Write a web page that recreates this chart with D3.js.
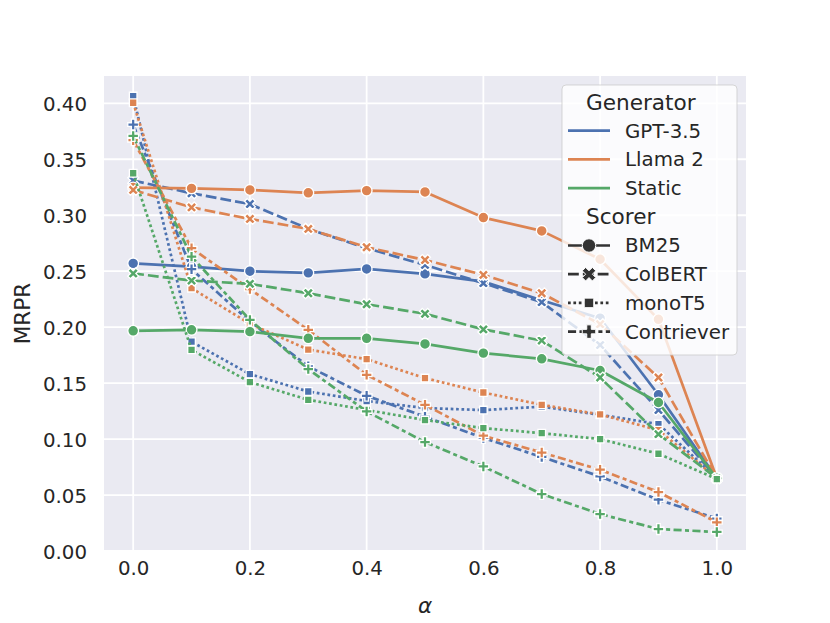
<!DOCTYPE html>
<head>
  <meta charset="utf-8" />
  <script src="https://d3js.org/d3.v7.min.js"></script>
  <style>
    body {
      margin: 0;
      background: #fff;
    }
    text {
      font-family: "DejaVu Sans", sans-serif;
      fill: #262626;
    }
  </style>
</head>

<body>
<div id="chart"></div>

<script>

// values
var alphas = [0.0, 0.1, 0.2, 0.3, 0.4, 0.5, 0.6, 0.7, 0.8, 0.9, 1.0];
var generators = ["GPT-3.5", "Llama 2", "Static"];
var scorers = ["BM25", "ColBERT", "monoT5", "Contriever"];

var gptBM25       = [0.257, 0.254, 0.250, 0.2485, 0.252, 0.2476, 0.2407, 0.224, 0.208, 0.1396, 0.065];
var gptColBERT    = [0.331, 0.3196, 0.310, 0.2878, 0.2705, 0.2556, 0.2393, 0.2223, 0.184, 0.126, 0.065];
var gptMonoT5     = [0.4065, 0.187, 0.158, 0.1425, 0.134, 0.1277, 0.1259, 0.129, 0.1217, 0.1134, 0.065];
var gptContriever = [0.381, 0.2518, 0.205, 0.165, 0.1387, 0.120, 0.101, 0.084, 0.0666, 0.0458, 0.029];

var llamaBM25       = [0.3247, 0.324, 0.3226, 0.320, 0.322, 0.3208, 0.2979, 0.286, 0.2607, 0.207, 0.065];
var llamaColBERT    = [0.3226, 0.307, 0.2967, 0.2878, 0.2714, 0.260, 0.2467, 0.2303, 0.2027, 0.155, 0.065];
var llamaMonoT5     = [0.4005, 0.2348, 0.203, 0.180, 0.1714, 0.1545, 0.1416, 0.1306, 0.122, 0.108, 0.065];
var llamaContriever = [0.367, 0.2705, 0.234, 0.1976, 0.1574, 0.1306, 0.103, 0.088, 0.0726, 0.0527, 0.0256];

var staticBM25       = [0.1967, 0.1976, 0.196, 0.190, 0.190, 0.185, 0.1768, 0.1717, 0.1613, 0.1327, 0.065];
var staticColBERT    = [0.248, 0.2416, 0.2387, 0.2303, 0.2205, 0.2119, 0.198, 0.188, 0.155, 0.1044, 0.065];
var staticMonoT5     = [0.3375, 0.1797, 0.1509, 0.1351, 0.126, 0.117, 0.1098, 0.1053, 0.100, 0.0869, 0.0643];
var staticContriever = [0.3708, 0.263, 0.2065, 0.1625, 0.1247, 0.0973, 0.0755, 0.0509, 0.033, 0.0196, 0.017];

var xTicks = [0.0, 0.2, 0.4, 0.6, 0.8, 1.0];
var yTicks = [0.00, 0.05, 0.10, 0.15, 0.20, 0.25, 0.30, 0.35, 0.40];

// one row per line, in the order seaborn draws them
var series = [
  {gen: "GPT-3.5", sc: "BM25", v: gptBM25},
  {gen: "GPT-3.5", sc: "ColBERT", v: gptColBERT},
  {gen: "GPT-3.5", sc: "monoT5", v: gptMonoT5},
  {gen: "GPT-3.5", sc: "Contriever", v: gptContriever},
  {gen: "Llama 2", sc: "BM25", v: llamaBM25},
  {gen: "Llama 2", sc: "ColBERT", v: llamaColBERT},
  {gen: "Llama 2", sc: "monoT5", v: llamaMonoT5},
  {gen: "Llama 2", sc: "Contriever", v: llamaContriever},
  {gen: "Static", sc: "BM25", v: staticBM25},
  {gen: "Static", sc: "ColBERT", v: staticColBERT},
  {gen: "Static", sc: "monoT5", v: staticMonoT5},
  {gen: "Static", sc: "Contriever", v: staticContriever}
];

var W = 830, H = 623;
var margin = {top: 76, right: 84, bottom: 72, left: 104},
    width = W - margin.left - margin.right,
    height = H - margin.top - margin.bottom;

var svg = d3.select("#chart")
  .append("svg")
  .attr("width", W)
  .attr("height", H);

var g = svg.append("g")
  .attr("transform", "translate(" + margin.left + "," + margin.top + ")");

var x = d3.scaleLinear().domain([-0.05, 1.05]).range([0, width]);
var y = d3.scaleLinear().domain([0, 0.4244]).range([height, 0]);

var color = d3.scaleOrdinal().domain(generators).range(["#4c72b0", "#dd8452", "#55a868"]);
var lw = 2.7;
var dashes = d3.scaleOrdinal().domain(scorers)
  .range(["none", [4 * lw, 1.5 * lw].join(","), [lw, lw].join(","),
          [3 * lw, 1.25 * lw, 1.5 * lw, 1.25 * lw].join(",")]);

// marker shapes (matplotlib o, X, square, P) at markersize ~10.8px
var ms = 10.8;
function markerPath(sc, s) {
  var h = s / 2;
  if (sc == "BM25") {
    return d3.symbol().type(d3.symbolCircle).size(Math.PI * h * h)();
  }
  if (sc == "monoT5") {
    var a = s * 0.707 / 2;
    return "M" + (-a) + "," + (-a) + "H" + a + "V" + a + "H" + (-a) + "Z";
  }
  var pts;
  if (sc == "ColBERT") {
    pts = [[-1, -2], [0, -1], [1, -2], [2, -1], [1, 0], [2, 1], [1, 2], [0, 1], [-1, 2], [-2, 1], [-1, 0], [-2, -1]]
      .map(function(p) { return [p[0] / 4 * s, p[1] / 4 * s]; });
  } else {
    pts = [[-1, -3], [1, -3], [1, -1], [3, -1], [3, 1], [1, 1], [1, 3], [-1, 3], [-1, 1], [-3, 1], [-3, -1], [-1, -1]]
      .map(function(p) { return [p[0] / 6 * s, p[1] / 6 * s]; });
  }
  return "M" + pts.map(function(p) { return p.join(","); }).join("L") + "Z";
}

// background + grid
g.append("rect")
  .attr("width", width)
  .attr("height", height)
  .attr("fill", "#eaeaf2");

g.append("g").selectAll("line")
  .data(xTicks)
  .enter().append("line")
    .attr("x1", function(d) { return x(d); })
    .attr("x2", function(d) { return x(d); })
    .attr("y1", 0)
    .attr("y2", height)
    .attr("stroke", "#fff")
    .attr("stroke-width", 1.8);

g.append("g").selectAll("line")
  .data(yTicks)
  .enter().append("line")
    .attr("x1", 0)
    .attr("x2", width)
    .attr("y1", function(d) { return y(d); })
    .attr("y2", function(d) { return y(d); })
    .attr("stroke", "#fff")
    .attr("stroke-width", 1.8);

// axes (no ticks, no domain line)
var xAxis = g.append("g")
  .attr("transform", "translate(0," + height + ")")
  .call(d3.axisBottom(x).tickValues(xTicks).tickFormat(d3.format(".1f")).tickSize(0).tickPadding(10));
var yAxis = g.append("g")
  .call(d3.axisLeft(y).tickValues(yTicks).tickFormat(d3.format(".2f")).tickSize(0).tickPadding(17));
[xAxis, yAxis].forEach(function(a) {
  a.select(".domain").remove();
  a.selectAll("text")
    .style("font-size", "19.8px")
    .style("font-family", "DejaVu Sans")
    .attr("fill", "#262626");
});
yAxis.selectAll("text").attr("dy", "0.38em");

// axis labels
svg.append("text")
  .attr("x", margin.left + x(0.5))
  .attr("y", 613)
  .attr("text-anchor", "middle")
  .style("font-size", "21.6px")
  .style("font-style", "italic")
  .text("α");

svg.append("text")
  .attr("transform", "translate(30," + (margin.top + height / 2) + ") rotate(-90)")
  .attr("text-anchor", "middle")
  .style("font-size", "21.6px")
  .text("MRPR");

// lines with their markers
var line = d3.line()
  .x(function(d, i) { return x(alphas[i]); })
  .y(function(d) { return y(d); });

series.forEach(function(s) {
  var grp = g.append("g");
  grp.append("path")
    .attr("d", line(s.v))
    .attr("fill", "none")
    .attr("stroke", color(s.gen))
    .attr("stroke-width", lw)
    .attr("stroke-linejoin", "round")
    .attr("stroke-dasharray", dashes(s.sc));
  grp.selectAll("path.mk")
    .data(s.v)
    .enter().append("path")
      .attr("class", "mk")
      .attr("transform", function(d, i) { return "translate(" + x(alphas[i]) + "," + y(d) + ")"; })
      .attr("d", markerPath(s.sc, ms))
      .attr("fill", color(s.gen))
      .attr("stroke", "#fff")
      .attr("stroke-width", 1.35);
});

// legend
var leg = svg.append("g").attr("transform", "translate(562,85)");
leg.append("rect")
  .attr("width", 175)
  .attr("height", 270)
  .attr("rx", 4)
  .attr("fill", "#fff")
  .attr("fill-opacity", 0.8)
  .attr("stroke", "#cccccc")
  .attr("stroke-opacity", 0.8);

var rowH = 28.7;
var rows = [{t: "Generator", title: true}]
  .concat(generators.map(function(d) { return {t: d, gen: d}; }))
  .concat([{t: "Scorer", title: true}])
  .concat(scorers.map(function(d) { return {t: d, sc: d}; }));

rows.forEach(function(r, i) {
  var cy = 17 + i * rowH;
  if (r.title) {
    leg.append("text")
      .attr("x", 24)
      .attr("y", cy)
      .attr("dy", "0.35em")
      .style("font-size", "21.6px")
      .text(r.t);
    return;
  }
  var c = r.gen ? color(r.gen) : "#333333";
  leg.append("line")
    .attr("x1", 6).attr("x2", 48)
    .attr("y1", cy).attr("y2", cy)
    .attr("stroke", c)
    .attr("stroke-width", lw)
    .attr("stroke-dasharray", r.sc ? dashes(r.sc) : "none");
  if (r.sc) {
    leg.append("path")
      .attr("transform", "translate(27," + cy + ")")
      .attr("d", markerPath(r.sc, 13.5))
      .attr("fill", c)
      .attr("stroke", "#fff")
      .attr("stroke-width", 1);
  }
  leg.append("text")
    .attr("x", 63)
    .attr("y", cy)
    .attr("dy", "0.35em")
    .style("font-size", "19.8px")
    .text(r.t);
});

</script>
</body>
</html>
